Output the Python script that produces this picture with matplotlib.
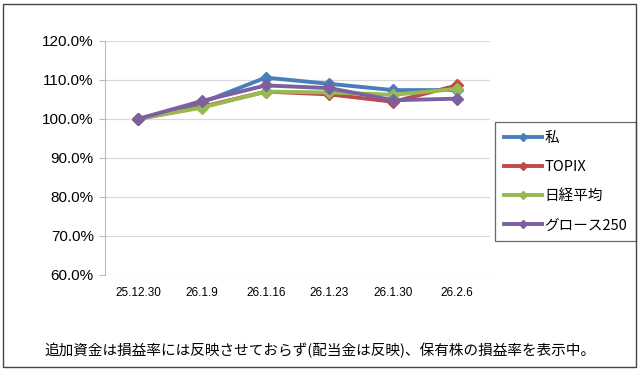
import matplotlib
matplotlib.use("Agg")
import matplotlib.pyplot as plt
from matplotlib.patches import Rectangle
from matplotlib.ticker import FuncFormatter

plt.rcParams['font.family'] = ['Noto Sans CJK JP', 'DejaVu Sans']

dates = ["25.12.30", "26.1.9", "26.1.16", "26.1.23", "26.1.30", "26.2.6"]
watashi = [100.0, 104.2, 110.6, 109.0, 107.4, 107.4]
topix = [100.0, 103.1, 107.0, 106.3, 104.4, 108.6]
nikkei = [100.0, 102.9, 107.0, 106.8, 106.2, 107.7]
growth250 = [100.0, 104.6, 108.6, 107.9, 104.8, 105.2]

series = [
    ("私", watashi, "#4a7ebb"),
    ("TOPIX", topix, "#be4b48"),
    ("日経平均", nikkei, "#98b954"),
    ("グロース250", growth250, "#7d60a0"),
]

fig = plt.figure(figsize=(6.4, 3.69), dpi=100)
ax = fig.add_axes([0.164, 0.255, 0.602, 0.634])

x = list(range(len(dates)))
for name, vals, col in series:
    ax.plot(x, vals, color=col, lw=2.8, marker="D", ms=6, label=name)

ax.set_ylim(60, 120)
ax.set_yticks(range(60, 121, 10))
ax.yaxis.set_major_formatter(FuncFormatter(lambda v, p: f"{v:.1f}%"))
ax.set_xlim(-0.52, len(dates) - 0.48)
ax.set_xticks(x)
ax.set_xticklabels(dates, fontsize=8.5, family=['Liberation Sans'])
ax.tick_params(axis='y', labelsize=11, length=4, color="#bbbbbb", pad=4)
ax.tick_params(axis='x', length=0, pad=9)
for lb in ax.get_yticklabels():
    lb.set_family(['Liberation Sans'])
ax.grid(axis='y', color="#d9d9d9", lw=0.9)
ax.set_axisbelow(True)
for s in ["top", "right", "bottom"]:
    ax.spines[s].set_visible(False)
ax.spines["left"].set_color("#bbbbbb")

leg = ax.legend(loc="upper left", bbox_to_anchor=(1.013, 0.654), frameon=True,
                fancybox=False, edgecolor="#444444", fontsize=10.5,
                handlelength=2.6, handletextpad=0.15, labelspacing=1.05,
                borderpad=0.6, borderaxespad=0, markerscale=0.75)
leg.get_frame().set_linewidth(0.9)

fig.text(0.5, 0.05, "追加資金は損益率には反映させておらず(配当金は反映)、保有株の損益率を表示中。",
         ha="center", va="center", fontsize=10.5)

fig.patches.append(Rectangle((0.004, 0.006), 0.99, 0.984, transform=fig.transFigure,
                             fill=False, edgecolor="#444444", lw=1.0))

fig.savefig("out.png", dpi=100)
